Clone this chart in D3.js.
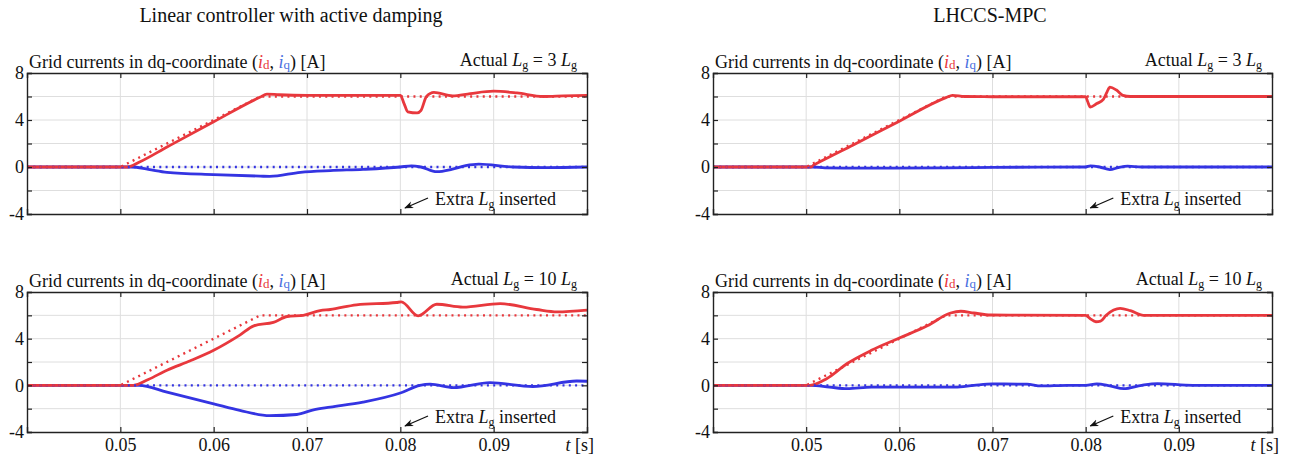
<!DOCTYPE html>
<html><head><meta charset="utf-8">
<script src="https://cdn.jsdelivr.net/npm/d3@7"></script>
<style>
html,body{margin:0;padding:0;background:#fff;}
svg{display:block;}
text{font-family:"Liberation Serif","Times New Roman",serif;fill:#111;}
</style></head>
<body><svg id="c" width="1293" height="456" font-family="Liberation Serif, serif"></svg>
<script>
// ---- data ----
const xTicks = [0.05, 0.06, 0.07, 0.08, 0.09];
const xTickLabels = ["0.05", "0.06", "0.07", "0.08", "0.09"];
const yTicks = [-4, -2, 0, 2, 4, 6, 8];
const yTickLabels = ["-4", "", "0", "", "4", "", "8"];
const columnTitles = ["Linear controller with active damping", "LHCCS-MPC"];
const caseLabels = ["3", "10"];

const refT = [0.04, 0.05, 0.065, 0.1];
const refId = [0, 0, 6, 6];
const refIqT = [0.04, 0.1];
const refIq = [0, 0];

// Linear controller, Lg = 3 Lg
const lin3IdT = [0.04, 0.0508, 0.052, 0.055, 0.060, 0.065, 0.0657, 0.067, 0.070, 0.075, 0.0800, 0.0804, 0.0808, 0.0818, 0.0822, 0.0828, 0.0836, 0.0856, 0.0875, 0.090, 0.0925, 0.0953, 0.0975, 0.1];
const lin3Id  = [0, 0, 0.4, 1.7, 3.85, 5.95, 6.2, 6.15, 6.1, 6.1, 6.1, 5.4, 4.7, 4.6, 4.8, 6.0, 6.35, 6.05, 6.25, 6.45, 6.3, 6.0, 6.05, 6.1];
const lin3IqT = [0.04, 0.0512, 0.053, 0.055, 0.060, 0.065, 0.066, 0.0693, 0.0725, 0.076, 0.0800, 0.0812, 0.0822, 0.0839, 0.0855, 0.0870, 0.0884, 0.0921, 0.0957, 0.1];
const lin3Iq  = [0, 0, -0.2, -0.45, -0.65, -0.78, -0.8, -0.45, -0.3, -0.2, 0.0, 0.1, 0.0, -0.4, -0.2, 0.12, 0.25, 0.0, -0.05, 0.0];

// LHCCS-MPC, Lg = 3 Lg
const mpc3IdT = [0.04, 0.0505, 0.0508, 0.052, 0.055, 0.060, 0.065, 0.0657, 0.067, 0.070, 0.0800, 0.0802, 0.0805, 0.0812, 0.0819, 0.0823, 0.0826, 0.0833, 0.0840, 0.0848, 0.1];
const mpc3Id  = [0, 0, 0.15, 0.65, 1.85, 3.9, 5.9, 6.1, 6.0, 5.98, 5.98, 5.6, 5.1, 5.4, 5.75, 6.4, 6.8, 6.55, 6.1, 6.0, 6.0];
const mpc3IqT = [0.04, 0.0508, 0.052, 0.055, 0.065, 0.070, 0.0800, 0.0805, 0.0815, 0.0826, 0.0835, 0.0845, 0.0860, 0.1];
const mpc3Iq  = [0, 0, -0.08, -0.1, -0.08, -0.03, 0.0, 0.1, 0.0, -0.22, -0.05, 0.08, 0.0, 0.0];

// Linear controller, Lg = 10 Lg
const lin10IdT = [0.04, 0.0514, 0.053, 0.055, 0.0575, 0.060, 0.0628, 0.0643, 0.0664, 0.0679, 0.0696, 0.0714, 0.0725, 0.0753, 0.0796, 0.0801, 0.0819, 0.0839, 0.0867, 0.0907, 0.0946, 0.0968, 0.1];
const lin10Id  = [0, 0, 0.5, 1.3, 2.1, 3.0, 4.3, 5.1, 5.4, 5.9, 6.0, 6.4, 6.5, 6.9, 7.1, 7.15, 5.95, 6.95, 6.7, 7.0, 6.5, 6.3, 6.45];
const lin10IqT = [0.04, 0.052, 0.055, 0.060, 0.0628, 0.066, 0.0689, 0.0707, 0.0725, 0.076, 0.080, 0.0821, 0.0832, 0.0857, 0.0896, 0.0942, 0.0989, 0.1];
const lin10Iq  = [0, 0, -0.58, -1.58, -2.15, -2.6, -2.5, -2.1, -1.87, -1.44, -0.66, 0.0, 0.1, -0.2, 0.23, -0.1, 0.37, 0.35];

// LHCCS-MPC, Lg = 10 Lg
const mpc10IdT = [0.04, 0.0504, 0.0522, 0.0544, 0.057, 0.060, 0.063, 0.0655, 0.0666, 0.068, 0.0698, 0.0800, 0.0805, 0.0811, 0.0816, 0.0822, 0.0830, 0.0837, 0.0848, 0.0862, 0.1];
const mpc10Id  = [0, 0, 0.57, 1.87, 3.0, 4.05, 5.1, 6.2, 6.35, 6.2, 6.03, 6.0, 5.7, 5.45, 5.5, 6.0, 6.45, 6.6, 6.4, 6.0, 6.0];
const mpc10IqT = [0.04, 0.0505, 0.0525, 0.0544, 0.057, 0.060, 0.066, 0.068, 0.070, 0.0737, 0.0752, 0.078, 0.080, 0.0812, 0.0826, 0.0841, 0.086, 0.0877, 0.0915, 0.1];
const mpc10Iq  = [0, 0, -0.15, -0.29, -0.15, -0.15, -0.15, 0.0, 0.12, 0.1, -0.05, 0.0, 0.0, 0.12, -0.05, -0.29, 0.0, 0.15, 0.0, 0.0];

const RED = "#e8383d", BLUE = "#3434e2", BLUE_LBL = "#4a6fe0";
const FONT = "'Liberation Serif','Times New Roman',serif";

const panels = [
  {x0: 27, x1: 587, y0: 73, y1: 214, idT: lin3IdT, id: lin3Id, iqT: lin3IqT, iq: lin3Iq, lg: caseLabels[0], xlab: false},
  {x0: 713, x1: 1272, y0: 73, y1: 214, idT: mpc3IdT, id: mpc3Id, iqT: mpc3IqT, iq: mpc3Iq, lg: caseLabels[0], xlab: false},
  {x0: 27, x1: 587, y0: 292, y1: 432, idT: lin10IdT, id: lin10Id, iqT: lin10IqT, iq: lin10Iq, lg: caseLabels[1], xlab: true},
  {x0: 713, x1: 1272, y0: 292, y1: 432, idT: mpc10IdT, id: mpc10Id, iqT: mpc10IqT, iq: mpc10Iq, lg: caseLabels[1], xlab: true}
];

const svg = d3.select("#c");
svg.append("defs").append("marker").attr("id","arr").attr("viewBox","0 0 10 10")
  .attr("refX",9).attr("refY",5).attr("markerWidth",9).attr("markerHeight",9)
  .attr("orient","auto-start-reverse").attr("markerUnits","userSpaceOnUse")
  .append("path").attr("d","M0,1 L10,5 L0,9 L3,5 Z").attr("fill","#111");

// column titles
svg.append("text").attr("x", 291).attr("y", 22).attr("text-anchor","middle").style("font-size","20px").text(columnTitles[0]);
svg.append("text").attr("x", 990).attr("y", 22).attr("text-anchor","middle").style("font-size","20px").text(columnTitles[1]);

panels.forEach(p => {
  const x = d3.scaleLinear().domain([0.04, 0.1]).range([p.x0, p.x1]);
  const y = d3.scaleLinear().domain([-4, 8]).range([p.y1, p.y0]);
  const g = svg.append("g");
  // grid
  g.selectAll(".gx").data(xTicks).join("line").attr("x1", d=>x(d)).attr("x2", d=>x(d))
    .attr("y1", p.y0).attr("y2", p.y1).attr("stroke", "#dedede").attr("stroke-width", 1);
  g.selectAll(".gy").data(yTicks.filter(v=>v>-4 && v<8)).join("line").attr("y1", d=>y(d)).attr("y2", d=>y(d))
    .attr("x1", p.x0).attr("x2", p.x1).attr("stroke", "#dedede").attr("stroke-width", 1);

  const line = (tt, vv, curve) => d3.line().x((d,i)=>x(tt[i])).y(d=>y(d)).curve(curve)(vv);
  // solid measured
  g.append("path").attr("d", line(p.iqT, p.iq, d3.curveMonotoneX)).attr("fill","none")
    .attr("stroke", BLUE).attr("stroke-width", 2.8).attr("stroke-linejoin","round");
  g.append("path").attr("d", line(p.idT, p.id, d3.curveMonotoneX)).attr("fill","none")
    .attr("stroke", RED).attr("stroke-width", 2.8).attr("stroke-linejoin","round");
  // dotted references
  g.append("path").attr("d", line(refIqT, refIq, d3.curveLinear)).attr("fill","none")
    .attr("stroke", BLUE).attr("stroke-width", 2.4).attr("stroke-dasharray","2,4.3");
  g.append("path").attr("d", line(refT, refId, d3.curveLinear)).attr("fill","none")
    .attr("stroke", RED).attr("stroke-width", 2.4).attr("stroke-dasharray","2,4.3");

  // axes (inward ticks on all sides)
  const tk = 5;
  const axL = d3.axisLeft(y).tickValues(yTicks).tickSize(-tk).tickPadding(3).tickFormat((d,i)=>yTickLabels[i]);
  const axR = d3.axisRight(y).tickValues(yTicks).tickSize(-tk).tickFormat("");
  const axB = d3.axisBottom(x).tickValues(xTicks).tickSize(-tk).tickPadding(6).tickFormat((d,i)=>p.xlab ? xTickLabels[i] : "");
  const axT = d3.axisTop(x).tickValues(xTicks).tickSize(-tk).tickFormat("");
  [[axL, `translate(${p.x0},0)`],[axR, `translate(${p.x1},0)`],[axB, `translate(0,${p.y1})`],[axT, `translate(0,${p.y0})`]].forEach(([ax, tr]) => {
    const a = g.append("g").attr("transform", tr).call(ax).attr("font-family", FONT);
    a.select(".domain").attr("stroke","#222").attr("stroke-width",1.4);
    a.selectAll(".tick line").attr("stroke","#222").attr("stroke-width",1.2);
    a.selectAll("text").style("font-family", FONT).style("font-size","18px").attr("fill","#222");
  });
  if (p.xlab) {
    const t = g.append("text").attr("x", p.x1 + 7).attr("y", p.y1 + 19).attr("text-anchor","end").style("font-size","18px");
    t.append("tspan").style("font-style","italic").text("t");
    t.append("tspan").text(" [s]");
  }

  // subtitle
  const st = g.append("text").attr("x", p.x0 + 2).attr("y", p.y0 - 5).style("font-size","18px");
  st.append("tspan").text("Grid currents in dq-coordinate (");
  st.append("tspan").style("font-style","italic").attr("fill", RED).text("i");
  st.append("tspan").attr("fill", RED).style("font-size","13px").attr("dy", 1).text("d");
  st.append("tspan").attr("dy", -1).text(", ");
  st.append("tspan").style("font-style","italic").attr("fill", BLUE_LBL).text("i");
  st.append("tspan").attr("fill", BLUE_LBL).style("font-size","13px").attr("dy", 1).text("q");
  st.append("tspan").attr("dy", -1).text(") [A]");

  // case label
  const cl = g.append("text").attr("x", p.x1 - 10).attr("y", p.y0 - 7).attr("text-anchor","end").style("font-size","18px");
  cl.append("tspan").text("Actual ");
  cl.append("tspan").style("font-style","italic").text("L");
  cl.append("tspan").style("font-size","12px").attr("dy", 3).text("g");
  cl.append("tspan").attr("dy", -3).text(" = " + p.lg + " ");
  cl.append("tspan").style("font-style","italic").text("L");
  cl.append("tspan").style("font-size","12px").attr("dy", 3).text("g");

  // annotation
  const tip = x(0.0805);
  g.append("line").attr("x1", tip + 23).attr("y1", p.y1 - 16).attr("x2", tip).attr("y2", p.y1 - 6)
    .attr("stroke","#111").attr("stroke-width",1.3).attr("marker-end","url(#arr)");
  const an = g.append("text").attr("x", tip + 30).attr("y", p.y1 - 9).style("font-size","18px");
  an.append("tspan").text("Extra ");
  an.append("tspan").style("font-style","italic").text("L");
  an.append("tspan").style("font-size","12px").attr("dy", 3).text("g");
  an.append("tspan").attr("dy", -3).text(" inserted");
});
</script></body></html>
